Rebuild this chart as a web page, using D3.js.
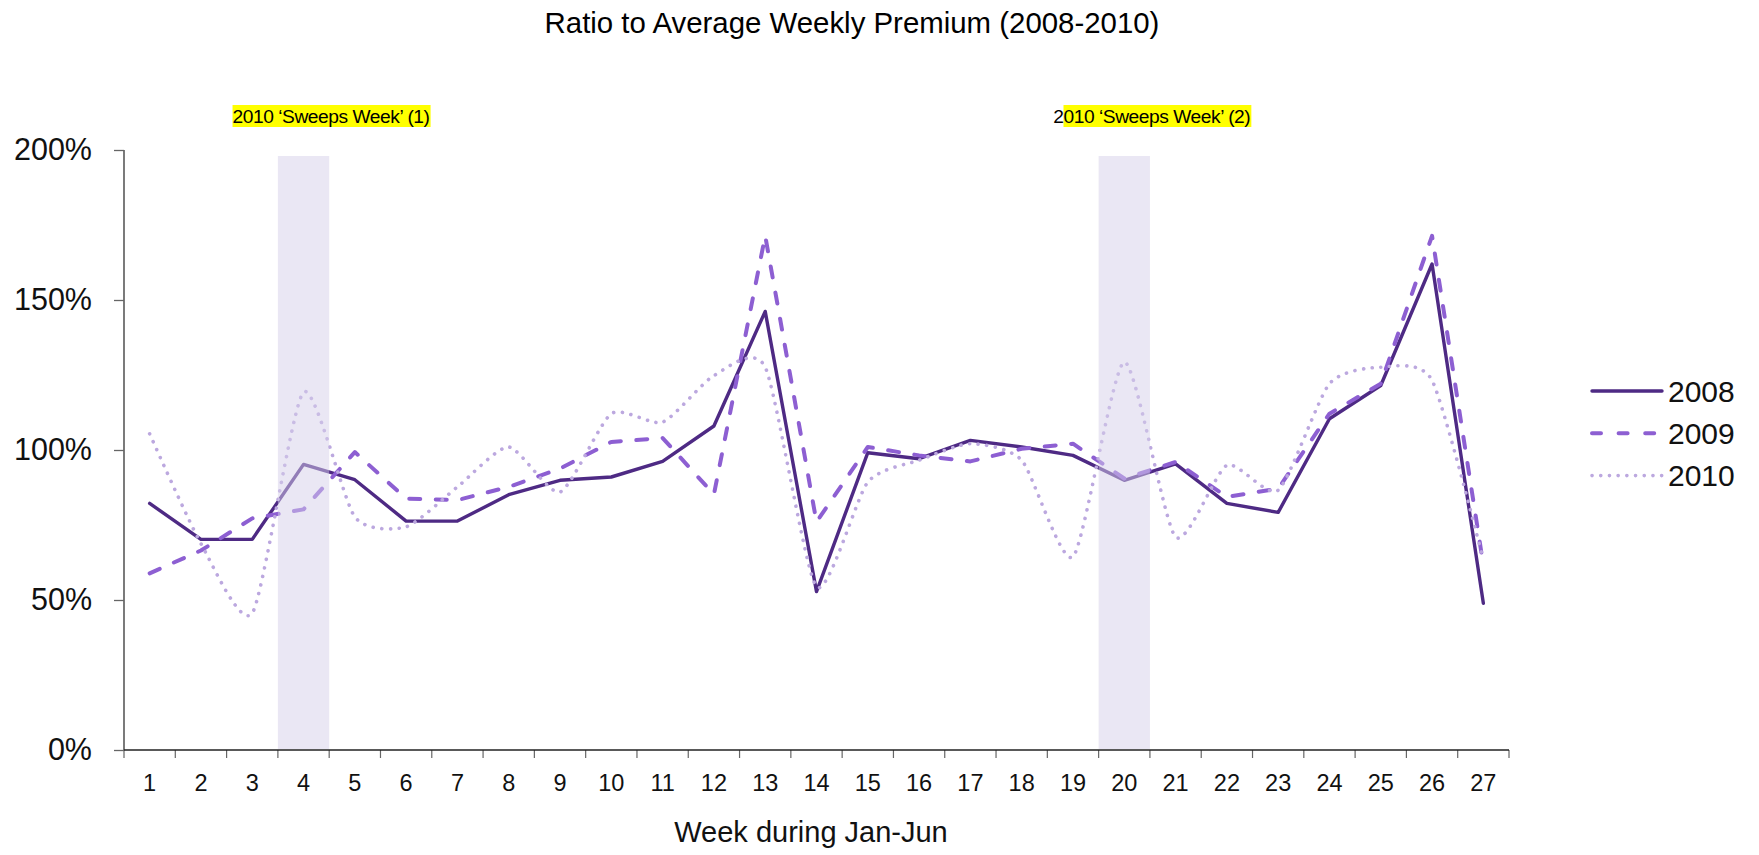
<!DOCTYPE html>
<html>
<head>
<meta charset="utf-8">
<script src="https://cdn.jsdelivr.net/npm/d3@7"></script>
<style>
  html, body { margin: 0; padding: 0; background: #ffffff; }
  svg { display: block; font-family: "Liberation Sans", Arial, Helvetica, sans-serif; }
</style>
</head>
<body>
<svg id="chart" width="1759" height="855"></svg>
<script>
// Weeks of the January–June period
const weeks = [1, 2, 3, 4, 5, 6, 7, 8, 9, 10, 11, 12, 13, 14, 15, 16, 17, 18, 19, 20, 21, 22, 23, 24, 25, 26, 27];

// Weekly premium as a percentage of the yearly average weekly premium
const ratio2008 = [82.2, 70.2, 70.2, 95.2, 90.1, 76.3, 76.3, 85.1, 89.9, 91.0, 96.2, 108.0, 146.2, 52.8, 99.1, 97.1, 103.2, 101.0, 98.2, 89.9, 95.4, 82.2, 79.2, 110.4, 121.5, 162.0, 48.9];
const ratio2009 = [58.9, 66.5, 77.2, 80.2, 99.3, 83.8, 83.3, 87.7, 93.8, 102.7, 104.0, 85.2, 171.4, 76.0, 101.0, 98.2, 96.2, 100.4, 102.1, 90.5, 96.0, 84.4, 87.1, 112.1, 122.1, 171.4, 61.6];
const ratio2010 = [105.4, 68.8, 45.6, 119.3, 77.7, 74.4, 87.7, 101.0, 86.0, 112.1, 109.3, 124.8, 127.6, 54.4, 89.3, 96.6, 102.1, 96.6, 64.4, 129.3, 71.0, 94.9, 86.6, 122.1, 127.6, 123.2, 63.3];

const seriesNames = ["2008", "2009", "2010"];

// Sweeps weeks highlighted in 2010
const sweepsWeeks = [4, 20];
const sweepsLabels = ["2010 \u2018Sweeps Week\u2019 (1)", "2010 \u2018Sweeps Week\u2019 (2)"];
const sweepsHighlightFrom = [0, 1];
const sweepsTop = 198;

const yTicks = [0, 50, 100, 150, 200];

const title = "Ratio to Average Weekly Premium (2008-2010)";
const xTitle = "Week during Jan-Jun";

// ---- layout ----
const svg = d3.select("#chart");
const plot = { left: 124, right: 1509, top: 150, bottom: 750 };

const x = d3.scaleBand().domain(weeks).range([plot.left, plot.right]).paddingInner(0).paddingOuter(0);
const y = d3.scaleLinear().domain([0, 200]).range([plot.bottom, plot.top]);
const cx = w => x(w) + x.bandwidth() / 2;

const styles = [
  { color: "#4e2a84", width: 3.4, dash: null,      cap: "round", curve: d3.curveLinear },
  { color: "#8d5fd2", width: 4,   dash: "11,15.5", cap: "round", curve: d3.curveLinear },
  { color: "#bca8df", width: 3.6, dash: "0.1,8.6", cap: "round", curve: d3.curveCardinal.tension(0.35) }
];
const seriesValues = [ratio2008, ratio2009, ratio2010];

// ---- title ----
svg.append("text")
  .attr("x", 852).attr("y", 33)
  .attr("text-anchor", "middle")
  .attr("font-size", 29.4)
  .attr("fill", "#000")
  .text(title);

// ---- lines ----
const linesG = svg.append("g");
seriesValues.forEach((vals, i) => {
  const st = styles[i];
  const line = d3.line()
    .x((d, j) => cx(weeks[j]))
    .y(d => y(d))
    .curve(st.curve);
  linesG.append("path")
    .datum(vals)
    .attr("d", line)
    .attr("fill", "none")
    .attr("stroke", st.color)
    .attr("stroke-width", st.width)
    .attr("stroke-linejoin", "round")
    .attr("stroke-linecap", st.cap)
    .attr("stroke-dasharray", st.dash);
});

// ---- sweeps week shading (drawn over lines, semi-transparent) ----
svg.append("g").selectAll("rect")
  .data(sweepsWeeks)
  .join("rect")
  .attr("x", d => x(d))
  .attr("width", x.bandwidth())
  .attr("y", y(sweepsTop))
  .attr("height", y(0) - y(sweepsTop) - 1)
  .attr("fill", "#d6d0ea")
  .attr("fill-opacity", 0.5);

// ---- sweeps annotations ----
const annG = svg.append("g");
sweepsWeeks.forEach((w, i) => {
  const g = annG.append("g");
  const hl = g.append("rect").attr("fill", "#ffff00");
  const t = g.append("text")
    .attr("x", cx(w) - 71)
    .attr("y", 123)
    .attr("font-size", 19.2)
    .attr("letter-spacing", -0.45)
    .attr("fill", "#000")
    .text(sweepsLabels[i]);
  const node = t.node();
  const bb = node.getBBox();
  const startX = node.getStartPositionOfChar(sweepsHighlightFrom[i]).x;
  const endX = bb.x + bb.width;
  hl.attr("x", startX).attr("y", 105)
    .attr("width", endX - startX + 1).attr("height", 22);
});

// ---- y axis ----
const yAxis = d3.axisLeft(y)
  .tickValues(yTicks)
  .tickFormat(d => d + "%")
  .tickSize(10)
  .tickPadding(22);
const yG = svg.append("g").attr("transform", `translate(${plot.left},0)`).call(yAxis);
yG.select(".domain").attr("stroke", "#333").attr("stroke-width", 1.3).attr("d", `M0,${plot.top}V${plot.bottom}`);
yG.selectAll(".tick line").attr("stroke", "#666").attr("stroke-width", 1.3);
yG.selectAll(".tick text")
  .attr("font-size", 30.5)
  .attr("font-family", "'Liberation Sans', Arial, sans-serif")
  .attr("fill", "#111");

// ---- x axis: labels centred on weeks, ticks on week boundaries ----
const xAxis = d3.axisBottom(x).tickSize(0).tickPadding(24);
const xG = svg.append("g").attr("transform", `translate(0,${plot.bottom})`).call(xAxis);
xG.select(".domain").remove();
xG.selectAll(".tick text")
  .attr("font-size", 23.5)
  .attr("font-family", "'Liberation Sans', Arial, sans-serif")
  .attr("fill", "#111");

const boundaries = weeks.map(w => x(w)).concat([x(weeks[weeks.length - 1]) + x.bandwidth()]);
svg.append("g").selectAll("line")
  .data(boundaries)
  .join("line")
  .attr("x1", d => d).attr("x2", d => d)
  .attr("y1", plot.bottom).attr("y2", plot.bottom + 8)
  .attr("stroke", "#666").attr("stroke-width", 1.2);
svg.append("line")
  .attr("x1", plot.left).attr("x2", plot.right)
  .attr("y1", plot.bottom).attr("y2", plot.bottom)
  .attr("stroke", "#222").attr("stroke-width", 1.5);

svg.append("text")
  .attr("x", 811).attr("y", 842)
  .attr("text-anchor", "middle")
  .attr("font-size", 29)
  .attr("fill", "#111")
  .text(xTitle);

// ---- legend ----
const legend = svg.append("g").attr("transform", "translate(1592,391)");
seriesNames.forEach((name, i) => {
  const st = styles[i];
  const row = legend.append("g").attr("transform", `translate(0,${i * 42.3})`);
  row.append("line")
    .attr("x1", 0).attr("x2", 70).attr("y1", 0).attr("y2", 0)
    .attr("stroke", st.color)
    .attr("stroke-width", st.width)
    .attr("stroke-linecap", st.cap)
    .attr("stroke-dasharray", i === 1 ? "9,17.6" : st.dash);
  row.append("text")
    .attr("x", 76).attr("y", 10.5)
    .attr("font-size", 30)
    .attr("fill", "#111")
    .text(name);
});
</script>
</body>
</html>
